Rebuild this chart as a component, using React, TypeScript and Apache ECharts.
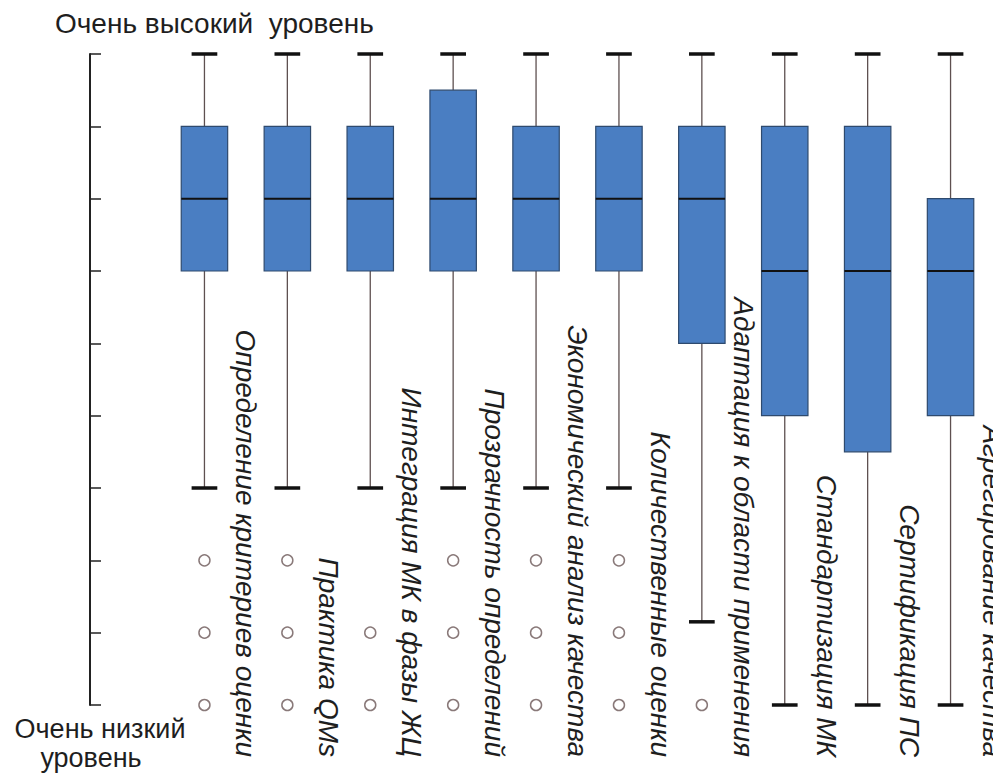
import React, { useEffect, useRef } from "react";
import * as echarts from "echarts";

const categories = [
  "Определение критериев оценки",
  "Практика QMs",
  "Интеграция МК в фазы ЖЦ",
  "Прозрачность определений",
  "Экономический анализ качества",
  "Количественные оценки",
  "Адаптация к области применения",
  "Стандартизация МК",
  "Сертификация ПС",
  "Агрегирование качества",
];

// [lower whisker, Q1, median, Q3, upper whisker]
const lowWhisker = [4, 4, 4, 4, 4, 4, 2.15, 1, 1, 1];
const q1 = [7, 7, 7, 7, 7, 7, 6, 5, 4.5, 5];
const median = [8, 8, 8, 8, 8, 8, 8, 7, 7, 7];
const q3 = [9, 9, 9, 9.5, 9, 9, 9, 9, 9, 8];
const highWhisker = [10, 10, 10, 10, 10, 10, 10, 10, 10, 10];

// outliers per category
const outliers: number[][] = [
  [3, 2, 1],
  [3, 2, 1],
  [2, 1],
  [3, 2, 1],
  [3, 2, 1],
  [3, 2, 1],
  [1],
  [],
  [],
  [],
];

const topLabel = "Очень высокий  уровень";
const bottomLabel1 = "Очень низкий";
const bottomLabel2 = "уровень";

const FONT = "'Liberation Sans', Arial, sans-serif";

export default function App() {
  const ref = useRef<HTMLDivElement>(null);

  useEffect(() => {
    if (!ref.current) return;
    const chart = echarts.init(ref.current, undefined, { renderer: "svg" });

    const boxData = categories.map((_, i) => [
      i,
      lowWhisker[i],
      q1[i],
      median[i],
      q3[i],
      highWhisker[i],
    ]);
    const outlierData: number[][] = [];
    outliers.forEach((arr, i) => arr.forEach((v) => outlierData.push([i, v])));

    const option: any = {
      animation: false,
      backgroundColor: "#ffffff",
      grid: { left: 163, right: 1, top: 54, bottom: 68, containLabel: false },
      xAxis: {
        type: "category",
        data: categories,
        boundaryGap: true,
        axisLine: { show: false },
        axisTick: { show: false },
        axisLabel: { show: false },
        splitLine: { show: false },
      },
      yAxis: {
        type: "value",
        min: 1,
        max: 10,
        interval: 1,
        offset: 73,
        axisLine: { show: true, lineStyle: { color: "#222", width: 2 } },
        axisTick: { show: true, inside: true, length: 11, lineStyle: { color: "#222", width: 1.5 } },
        axisLabel: { show: false },
        splitLine: { show: false },
      },
      graphic: [
        {
          type: "text",
          left: 55,
          top: 9,
          style: { text: topLabel, font: `28px ${FONT}`, fill: "#1e1e1e" },
        },
        {
          type: "text",
          x: 100,
          y: 729,
          style: {
            text: bottomLabel1,
            font: `27px ${FONT}`,
            fill: "#1e1e1e",
            textAlign: "center",
            textVerticalAlign: "middle",
          },
        },
        {
          type: "text",
          x: 91,
          y: 758,
          style: {
            text: bottomLabel2,
            font: `27px ${FONT}`,
            fill: "#1e1e1e",
            textAlign: "center",
            textVerticalAlign: "middle",
          },
        },
      ],
      series: [
        {
          type: "custom",
          name: "box",
          data: boxData,
          encode: { x: 0, y: [1, 2, 3, 4, 5] },
          renderItem: (params: any, api: any) => {
            const i = api.value(0);
            const pLow = api.coord([i, api.value(1)]);
            const pQ1 = api.coord([i, api.value(2)]);
            const pMed = api.coord([i, api.value(3)]);
            const pQ3 = api.coord([i, api.value(4)]);
            const pHigh = api.coord([i, api.value(5)]);
            const band = api.size([1, 0])[0];
            const bw = band * 0.56;
            const cw = band * 0.31;
            const x = pMed[0];
            const whisker = { stroke: "#5e5050", lineWidth: 1.3 };
            const cap = { stroke: "#111111", lineWidth: 3.5 };
            return {
              type: "group",
              children: [
                { type: "line", shape: { x1: x, y1: pHigh[1], x2: x, y2: pQ3[1] }, style: whisker },
                { type: "line", shape: { x1: x, y1: pQ1[1], x2: x, y2: pLow[1] }, style: whisker },
                {
                  type: "rect",
                  shape: { x: x - bw / 2, y: pQ3[1], width: bw, height: pQ1[1] - pQ3[1] },
                  style: { fill: "#4a7ec2", stroke: "#2e4a6e", lineWidth: 1.2 },
                },
                {
                  type: "line",
                  shape: { x1: x - bw / 2, y1: pMed[1], x2: x + bw / 2, y2: pMed[1] },
                  style: { stroke: "#111111", lineWidth: 2 },
                },
                { type: "line", shape: { x1: x - cw / 2, y1: pHigh[1], x2: x + cw / 2, y2: pHigh[1] }, style: cap },
                { type: "line", shape: { x1: x - cw / 2, y1: pLow[1], x2: x + cw / 2, y2: pLow[1] }, style: cap },
              ],
            };
          },
          z: 2,
        },
        {
          type: "scatter",
          name: "outliers",
          data: outlierData,
          symbol: "circle",
          symbolSize: 11,
          itemStyle: { color: "#ffffff", borderColor: "#6b5858", borderWidth: 1.5 },
          z: 3,
        },
        {
          type: "custom",
          name: "labels",
          data: categories.map((_, i) => [i, 1]),
          encode: { x: 0, y: 1 },
          clip: false,
          renderItem: (params: any, api: any) => {
            const i = api.value(0);
            const p = api.coord([i, 1]);
            const band = api.size([1, 0])[0];
            return {
              type: "text",
              x: p[0] + band / 2,
              y: p[1] + 52,
              rotation: -Math.PI / 2,
              style: {
                text: categories[params.dataIndex],
                font: `italic 28px ${FONT}`,
                fill: "#1e1e1e",
                textAlign: "right",
                textVerticalAlign: "middle",
              },
            };
          },
          z: 4,
        },
      ],
    };

    chart.setOption(option);
    return () => chart.dispose();
  }, []);

  return (
    <div
      ref={ref}
      style={{ position: "absolute", left: 0, top: 0, width: 993, height: 773 }}
    />
  );
}
